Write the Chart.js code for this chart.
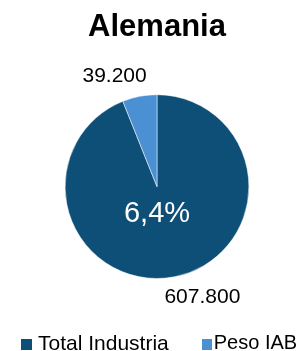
<!DOCTYPE html>
<html lang="es">
<head>
  <meta charset="UTF-8">
  <title>Alemania</title>
  <style>
    body {
      margin: 0;
      padding: 0;
      background: #fff;
      font-family: "Liberation Sans", Arial, sans-serif;
    }
    .wrap {
      position: relative;
      width: 302px;
      height: 351px;
      overflow: hidden;
    }
    #legend {
      position: absolute;
      left: 21px;
      top: 332px;
      display: flex;
      font-size: 21px;
      line-height: 21px;
      color: #000;
    }
    #legend .item {
      display: flex;
      align-items: center;
      margin-right: 33px;
      white-space: nowrap;
    }
    #legend .box {
      width: 11px;
      height: 11px;
      margin-right: 6px;
      margin-top: 4px;
    }
    #legend .item + .item {
      font-size: 20px;
    }
    #legend .item + .item .box {
      width: 10px;
      margin-right: 2px;
    }
  </style>
</head>
<body>
  <div class="wrap">
    <canvas id="chart" width="302" height="351"></canvas>
    <div id="legend"></div>
  </div>

  <script src="https://cdn.jsdelivr.net/npm/chart.js"></script>
  <script>
    // data
    const categories = ['Total Industria', 'Peso IAB'];
    const values = [607800, 39200];
    const valueLabels = ['607.800', '39.200'];
    const shareLabel = '6,4%';
    const colors = ['#0E4F78', '#4A90D2'];

    // label shifts from the slice's outer mid point
    const labelShift = [[28, 20], [-25, -20]];

    const sliceLabels = {
      id: 'sliceLabels',
      afterDatasetsDraw(chart) {
        const ctx = chart.ctx;
        const arcs = chart.getDatasetMeta(0).data;
        ctx.save();
        ctx.textAlign = 'center';
        ctx.textBaseline = 'middle';
        ctx.fillStyle = '#000';
        ctx.font = '21px "Liberation Sans", Arial, sans-serif';
        arcs.forEach((arc, i) => {
          const mid = (arc.startAngle + arc.endAngle) / 2;
          const x = arc.x + Math.cos(mid) * arc.outerRadius + labelShift[i][0];
          const y = arc.y + Math.sin(mid) * arc.outerRadius + labelShift[i][1];
          ctx.fillText(valueLabels[i], x, y);
        });
        // share in the middle of the big slice
        const a = arcs[0];
        ctx.fillStyle = '#fff';
        ctx.font = '29px "Liberation Sans", Arial, sans-serif';
        ctx.fillText(shareLabel, a.x, a.y + a.outerRadius * 0.3);
        ctx.restore();
      }
    };

    const chart = new Chart(document.getElementById('chart'), {
      type: 'pie',
      data: {
        labels: categories,
        datasets: [{
          data: values,
          backgroundColor: colors,
          borderColor: 'rgba(255,255,255,0.5)',
          borderWidth: 1
        }]
      },
      options: {
        responsive: false,
        animation: false,
        layout: {
          padding: { left: 12, right: 0, top: 0, bottom: 72 }
        },
        plugins: {
          legend: { display: false },
          tooltip: { enabled: false },
          title: {
            display: true,
            text: 'Alemania',
            color: '#000',
            font: { family: '"Liberation Sans", Arial, sans-serif', size: 31, weight: 'bold' },
            padding: { top: 9, bottom: 48 }
          }
        }
      },
      plugins: [sliceLabels]
    });

    // html legend
    const legend = document.getElementById('legend');
    categories.forEach((name, i) => {
      const item = document.createElement('div');
      item.className = 'item';
      const box = document.createElement('span');
      box.className = 'box';
      box.style.background = colors[i];
      const txt = document.createElement('span');
      txt.textContent = name;
      item.appendChild(box);
      item.appendChild(txt);
      legend.appendChild(item);
    });
  </script>
</body>
</html>
